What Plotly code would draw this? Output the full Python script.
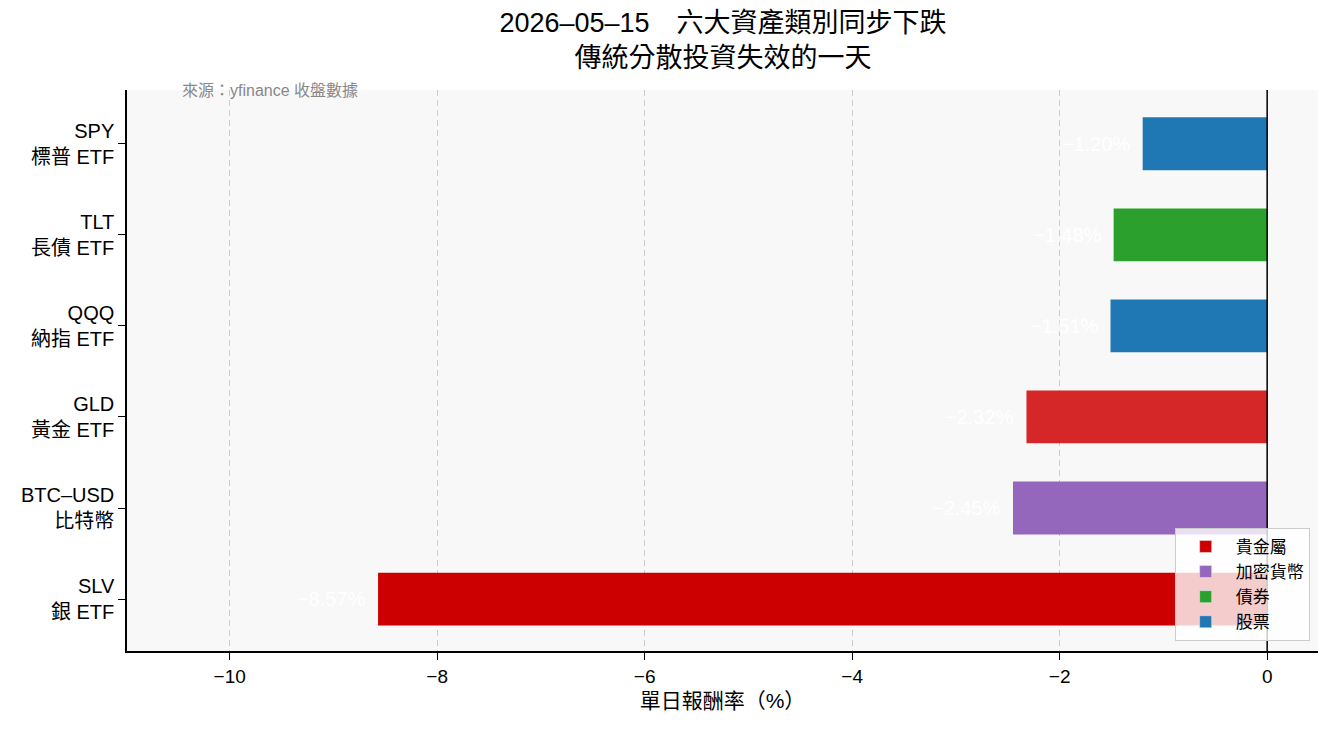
import plotly.graph_objects as go

# data
tickers = ['SPY', 'TLT', 'QQQ', 'GLD', 'BTC-USD', 'SLV']
names = ['標普 ETF', '長債 ETF', '納指 ETF', '黃金 ETF', '比特幣', '銀 ETF']
returns = [-1.20, -1.48, -1.51, -2.32, -2.45, -8.57]
classes = ['股票', '債券', '股票', '貴金屬', '加密貨幣', '貴金屬']
bar_colors = ['#1f77b4', '#2ca02c', '#1f77b4', '#d62728', '#9467bd', '#cc0000']
legend_order = ['貴金屬', '加密貨幣', '債券', '股票']
legend_colors = ['#cc0000', '#9467bd', '#2ca02c', '#1f77b4']

labels = [t.replace('-', '\u2013') + '<br>' + n for t, n in zip(tickers, names)]
texts = [f'{v:.2f}%'.replace('-', '\u2212') for v in returns]

FONT = 'Liberation Sans, Noto Sans CJK TC, sans-serif'

fig = go.Figure()

# bars, one colour per asset
fig.add_trace(go.Bar(
    x=returns, y=labels, orientation='h',
    marker=dict(color=bar_colors, line=dict(width=0)),
    width=0.58,
    showlegend=False,
))

# value labels (white, left of each bar)
for lab, v, t in zip(labels, returns, texts):
    fig.add_annotation(
        x=v, y=lab, text=t, showarrow=False, xanchor='right', yanchor='middle',
        xshift=-10, font=dict(color='white', size=20, family=FONT),
    )

# legend entries
for name, col in zip(legend_order, legend_colors):
    fig.add_trace(go.Bar(
        x=[None], y=[None], orientation='h', name=name,
        marker=dict(color=col), showlegend=True,
    ))

fig.add_vline(x=0, line=dict(color='black', width=1.5))

fig.add_annotation(
    text='來源：yfinance 收盤數據', xref='paper', yref='paper',
    x=0.0445, y=1.0, xanchor='left', yanchor='middle', showarrow=False,
    font=dict(size=16, color='#888888', family=FONT),
)

fig.update_layout(
    width=1318, height=715,
    margin=dict(l=119, r=8, t=82, b=72),
    paper_bgcolor='white', plot_bgcolor='#f8f8f8',
    font=dict(family=FONT, size=20, color='black'),
    title=dict(
        text='2026\u201305\u201315　六大資產類別同步下跌<br>傳統分散投資失效的一天',
        x=0.5425, xanchor='center', y=0.967, yanchor='middle',
        font=dict(size=27, family=FONT),
    ),
    barmode='overlay',
    legend=dict(
        x=0.993, y=0.018, xanchor='right', yanchor='bottom',
        bgcolor='rgba(255,255,255,0.8)', bordercolor='#cccccc', borderwidth=1,
        font=dict(size=17, family=FONT), traceorder='normal',
        itemwidth=50,
    ),
    xaxis=dict(
        range=[-10.99, 0.49], tickvals=[-10, -8, -6, -4, -2, 0],
        showgrid=True, gridcolor='#cccccc', griddash='6px,4px', gridwidth=1,
        zeroline=False, showline=True, linecolor='black', linewidth=1.5,
        ticks='outside', ticklen=7, tickcolor='black',
        title=dict(text='單日報酬率（%）', font=dict(size=21, family=FONT), standoff=8),
        tickfont=dict(size=19),
    ),
    yaxis=dict(
        range=[5.57, -0.59], showgrid=False, zeroline=False,
        showline=True, linecolor='black', linewidth=1.5,
        ticks='outside', ticklen=7, tickcolor='black',
        tickfont=dict(size=20),
    ),
)

fig.write_html('out.html')
